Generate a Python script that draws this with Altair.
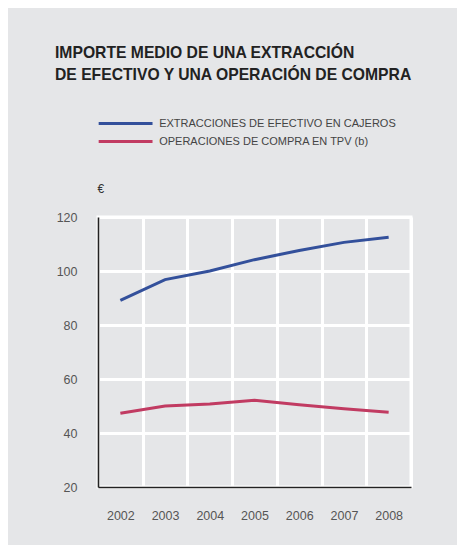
import altair as alt
import pandas as pd

years = ["2002", "2003", "2004", "2005", "2006", "2007", "2008"]
series_names = ["EXTRACCIONES DE EFECTIVO EN CAJEROS", "OPERACIONES DE COMPRA EN TPV (b)"]
extracciones = [89.1, 96.8, 100.0, 104.2, 107.6, 110.6, 112.5]
operaciones = [47.3, 50.0, 50.7, 52.1, 50.5, 49.0, 47.7]
colors = ["#33509b", "#c13b62"]

rows = []
for y, v in zip(years, extracciones):
    rows.append({"year": y, "serie": series_names[0], "value": v})
for y, v in zip(years, operaciones):
    rows.append({"year": y, "serie": series_names[1], "value": v})
df = pd.DataFrame(rows)

FONT = "Liberation Sans"

chart = alt.Chart(df).mark_line(strokeWidth=3).encode(
    x=alt.X("year:O",
            scale=alt.Scale(type="band", paddingInner=0, paddingOuter=0),
            axis=alt.Axis(title=None, tickBand="extent", grid=True, ticks=False,
                          labelAngle=0, labelPadding=22, labelFontSize=12.5,
                          labelColor="#555555", labelFont=FONT,
                          domainColor="#222222", domainWidth=1.6,
                          gridColor="white", gridWidth=3)),
    y=alt.Y("value:Q",
            scale=alt.Scale(domain=[20, 120], nice=False, zero=False),
            axis=alt.Axis(values=[20, 40, 60, 80, 100, 120], ticks=False,
                          labelPadding=21, labelFontSize=12.5, labelColor="#555555",
                          labelFont=FONT,
                          domainColor="#222222", domainWidth=1.6,
                          gridColor="white", gridWidth=3,
                          title="€", titleAngle=0, titleAlign="left",
                          titleBaseline="middle", titleX=-1, titleY=-29,
                          titleFontSize=12, titleFontWeight="normal",
                          titleColor="#333333", titleFont=FONT)),
    color=alt.Color("serie:N",
                    scale=alt.Scale(domain=series_names, range=colors),
                    legend=alt.Legend(title=None, orient="none", legendX=20.6, legendY=-100.5,
                                      symbolType="M-5,0H5", symbolSize=116,
                                      symbolStrokeWidth=3, labelFontSize=11,
                                      labelColor="#444444", labelFont=FONT,
                                      labelLimit=400,
                                      labelOffset=26.6, rowPadding=5)),
).properties(
    width=313,
    height=270,
    title=alt.TitleParams(
        text=["IMPORTE MEDIO DE UNA EXTRACCIÓN", "DE EFECTIVO Y UNA OPERACIÓN DE COMPRA"],
        anchor="start", frame="group", fontSize=15.7, fontWeight="bold",
        font=FONT, color="#222222", lineHeight=22, dx=-43, dy=-33,
        orient="top", offset=0, baseline="top"),
    autosize=alt.AutoSizeParams(type="none"),
    padding={"left": 90, "top": 209, "right": 46, "bottom": 58},
    background="#e5e6e8",
).configure_view(
    stroke="white", strokeWidth=3, fill="#e5e6e8"
)

chart.save("out.html", embed_options={"renderer": "svg", "actions": False})
